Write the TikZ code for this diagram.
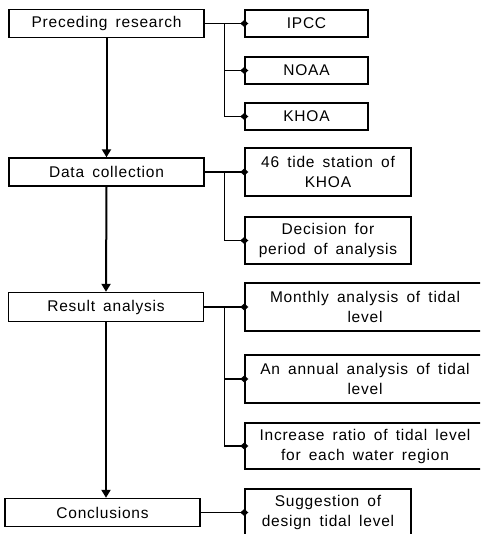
\documentclass[tikz,border=0pt]{standalone}
\usepackage{fontspec}
\setmainfont[LetterSpace=5,WordSpace=1.6]{Liberation Sans}
\usetikzlibrary{arrows.meta}
\begin{document}
\begin{tikzpicture}[
   x=1pt,y=-1pt,
   font=\fontsize{15.5}{20}\selectfont,
   box/.style={draw,line width=1.4pt,inner sep=0pt,align=center,minimum width=195pt,minimum height=28pt},
   sub/.style={draw,line width=1.4pt,inner sep=0pt,align=center,minimum width=166pt,minimum height=47pt},
   to/.style={-{Triangle[length=8pt,width=9pt]},line width=2pt},
   br/.style={-{Diamond[length=8pt,width=7pt]},line width=1.3pt,shorten >=-4pt}]
\useasboundingbox (0,0) rectangle (480,534);
\clip (0,0) rectangle (480,534);
% main steps
\node[box] (pre) at (106.5,23.5) {Preceding research};
\node[box] (dat) at (106.5,172) {Data collection};
\node[box,minimum height=29pt] (res) at (106,307) {Result analysis};
\node[box] (con) at (102.5,512.5) {Conclusions};
% sub items
\node[sub,minimum width=123pt,minimum height=27pt] (ipcc) at (306.5,23.5) {IPCC};
\node[sub,minimum width=123pt,minimum height=27pt] (noaa) at (306.5,70.5) {NOAA};
\node[sub,minimum width=123pt,minimum height=27pt] (khoa) at (306.5,116.5) {KHOA};
\node[sub,minimum height=48pt] (tide) at (328,172) {46 tide station of\\KHOA};
\node[sub] (dec) at (328,240.5) {Decision for\\period of analysis};
\node[sub,minimum width=240pt,minimum height=48pt] (mon) at (365,307) {Monthly analysis of tidal\\level};
\node[sub,minimum width=240pt,minimum height=48pt] (ann) at (365,379) {An annual analysis of tidal\\level};
\node[sub,minimum width=240pt,minimum height=46pt] (inc) at (365,446) {Increase ratio of tidal level\\for each water region};
\node[sub] (sug) at (328,512.5) {Suggestion of\\design tidal level};
% flow
\draw[to] (pre.south) -- (dat.north);
\draw[to] (dat.south) -- (res.north);
\draw[to] (res.south) -- (res.south |- con.north);
% branches
\draw[br] (pre.east) -- (ipcc.west);
\draw[br] ([xshift=20pt]pre.east) |- (noaa.west);
\draw[br] ([xshift=20pt]pre.east) |- (khoa.west);
\draw[br] (dat.east) -- (tide.west);
\draw[br] ([xshift=20pt]dat.east) |- (dec.west);
\draw[br] (res.east) -- (mon.west);
\draw[br] ([xshift=20.5pt]res.east) |- (ann.west);
\draw[br] ([xshift=20.5pt]res.east) |- (inc.west);
\draw[br] (con.east) -- (sug.west);
\end{tikzpicture}
\end{document}
